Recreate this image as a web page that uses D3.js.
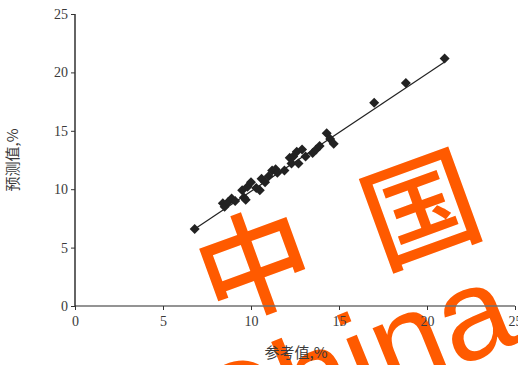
<!DOCTYPE html>
<html>
<head>
<meta charset="utf-8">
<script src="https://cdn.jsdelivr.net/npm/d3@7/dist/d3.min.js"></script>
<style>
  html, body { margin: 0; padding: 0; background: #fff; }
  svg { display: block; }
</style>
</head>
<body>
<script>
// Reference values (x) and predicted values (y), in %
const refValues = [6.8, 8.4, 8.5, 8.7, 8.9, 9.1, 9.5, 9.6, 9.7, 9.8, 10.0, 10.3, 10.5, 10.6, 10.8, 11.0, 11.2, 11.4, 11.5, 11.9, 12.2, 12.3, 12.4, 12.6, 12.7, 12.9, 13.1, 13.5, 13.7, 13.9, 14.3, 14.5, 14.7, 17.0, 18.8, 21.0];
const predValues = [6.6, 8.8, 8.5, 8.9, 9.2, 9.0, 9.9, 9.3, 9.1, 10.2, 10.6, 10.1, 9.9, 10.9, 10.6, 11.1, 11.6, 11.7, 11.4, 11.6, 12.7, 12.2, 12.8, 13.2, 12.2, 13.4, 12.8, 13.1, 13.4, 13.7, 14.8, 14.3, 13.9, 17.4, 19.1, 21.2];
const xTicks = [0, 5, 10, 15, 20, 25];
const yTicks = [0, 5, 10, 15, 20, 25];
// Fitted trend line y = slope * x + intercept
const fitSlope = 1.007;
const fitIntercept = -0.25;
const xLabel = "参考值,%";
const yLabel = "预测值,%";

const W = 518, H = 365;
const svg = d3.select("body").append("svg").attr("width", W).attr("height", H);

const x = d3.scaleLinear().domain([0, 25]).range([75, 515]);
const y = d3.scaleLinear().domain([0, 25]).range([306, 14]);

// Watermark layer
const wm = svg.append("g").attr("fill", "#ff5a00");
wm.append("text")
  .attr("transform", "translate(252,258) rotate(-20)")
  .attr("text-anchor", "middle").attr("dominant-baseline", "central")
  .attr("font-family", "'Noto Sans CJK SC'").attr("font-weight", 500)
  .attr("font-size", 114).text("中");
wm.append("text")
  .attr("transform", "translate(418,202) rotate(-20)")
  .attr("text-anchor", "middle").attr("dominant-baseline", "central")
  .attr("font-family", "'Noto Sans CJK SC'").attr("font-weight", 500)
  .attr("font-size", 114).text("国");
wm.append("text")
  .attr("transform", "translate(212,466) rotate(-22)")
  .attr("font-family", "'Liberation Sans', Arial, sans-serif")
  .attr("font-size", 128).text("China");

const tickFont = "'Liberation Serif', 'DejaVu Serif', serif";

// X axis
const gx = svg.append("g").attr("transform", `translate(0,${y(0)})`)
  .call(d3.axisBottom(x).tickValues(xTicks).tickSize(4).tickPadding(6).tickFormat(d3.format("d")));
gx.select(".domain").attr("stroke", "#707070").attr("stroke-width", 1.3).attr("d", `M${x(0)},0H${x(25)}`);
gx.selectAll(".tick line").attr("stroke", "#333");
gx.selectAll(".tick text").attr("font-family", tickFont).attr("font-size", 14).attr("fill", "#3a3a3a");

// Y axis
const gy = svg.append("g").attr("transform", `translate(${x(0)},0)`)
  .call(d3.axisLeft(y).tickValues(yTicks).tickSize(4).tickPadding(3).tickFormat(d3.format("d")));
gy.select(".domain").attr("stroke", "#111").attr("stroke-width", 1.3).attr("d", `M0,${y(25)}V${y(0)}`);
gy.selectAll(".tick line").attr("stroke", "#333");
gy.selectAll(".tick text").attr("font-family", tickFont).attr("font-size", 14).attr("fill", "#3a3a3a");

// Trend line
const xExt = d3.extent(refValues);
svg.append("line")
  .attr("x1", x(xExt[0])).attr("y1", y(fitSlope * xExt[0] + fitIntercept))
  .attr("x2", x(xExt[1])).attr("y2", y(fitSlope * xExt[1] + fitIntercept))
  .attr("stroke", "#222").attr("stroke-width", 1.2);

// Points (diamonds)
const sym = d3.symbol().type(d3.symbolSquare).size(50);
svg.append("g").selectAll("path")
  .data(refValues.map((v, i) => [v, predValues[i]]))
  .join("path")
  .attr("d", sym)
  .attr("transform", d => `translate(${x(d[0])},${y(d[1])}) rotate(45)`)
  .attr("fill", "#222");

// Axis titles
svg.append("text")
  .attr("transform", "translate(18,160) rotate(-90)")
  .attr("text-anchor", "middle")
  .attr("font-family", "'Noto Sans CJK SC'").attr("font-size", 15).attr("fill", "#3a3a3a")
  .text(yLabel);
svg.append("text")
  .attr("x", 296).attr("y", 358)
  .attr("text-anchor", "middle")
  .attr("font-family", "'Noto Sans CJK SC'").attr("font-size", 15).attr("fill", "#3a3a3a")
  .text(xLabel);
</script>
</body>
</html>
